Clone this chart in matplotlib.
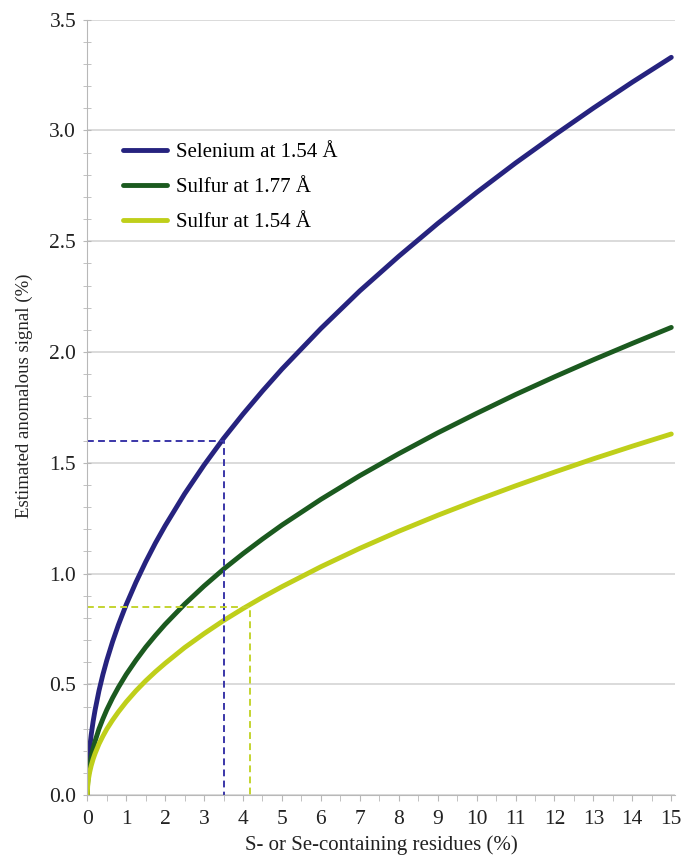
import matplotlib.pyplot as plt
from matplotlib.ticker import MultipleLocator

plt.rcParams['font.family'] = ['Liberation Serif', 'DejaVu Serif']

# values
residues = [0, 0.01, 0.03, 0.06, 0.1, 0.15, 0.2, 0.3, 0.4, 0.5, 0.65, 0.8, 1,
            1.25, 1.5, 1.75, 2, 2.5, 3, 3.5, 4, 4.5, 5, 6, 7, 8, 9, 10,
            11, 12, 13, 14, 15]
selenium_154 = [0, 0.086, 0.149, 0.211, 0.272, 0.333, 0.384, 0.471, 0.544, 0.608,
                0.693, 0.769, 0.86, 0.961, 1.053, 1.138, 1.216, 1.36, 1.49, 1.61,
                1.72, 1.824, 1.923, 2.106, 2.276, 2.432, 2.58, 2.72, 2.853, 2.979,
                3.101, 3.218, 3.33]
sulfur_177 = [0, 0.055, 0.094, 0.134, 0.172, 0.211, 0.244, 0.299, 0.344, 0.385,
              0.439, 0.487, 0.545, 0.609, 0.668, 0.721, 0.771, 0.862, 0.944, 1.02,
              1.09, 1.156, 1.219, 1.335, 1.442, 1.541, 1.635, 1.723, 1.808, 1.888,
              1.965, 2.039, 2.111]
sulfur_154 = [0, 0.042, 0.073, 0.103, 0.133, 0.163, 0.188, 0.231, 0.266, 0.298,
              0.339, 0.376, 0.421, 0.471, 0.516, 0.557, 0.595, 0.666, 0.729, 0.788,
              0.842, 0.893, 0.941, 1.031, 1.114, 1.191, 1.263, 1.331, 1.396, 1.458,
              1.518, 1.575, 1.63]
labels = ["Selenium at 1.54 Å", "Sulfur at 1.77 Å", "Sulfur at 1.54 Å"]
colors = ["#26237f", "#1b5a1f", "#bfcf1a"]

# guide lines: (x, y) reading points
se_mark = (3.5, 1.6)
s_mark = (4.17, 0.85)

fig = plt.figure(figsize=(6.82, 8.55), dpi=100)
ax = fig.add_axes([0.128, 0.070, 0.862, 0.907])

for ys, lab, c in zip([selenium_154, sulfur_177, sulfur_154], labels, colors):
    ax.plot(residues, ys, color=c, lw=3.5, label=lab, solid_capstyle='round')

ax.plot([0, se_mark[0], se_mark[0]], [se_mark[1], se_mark[1], 0],
        color="#3a36a8", lw=1.4, ls=(0, (3.5, 2.2)))
ax.plot([0, s_mark[0], s_mark[0]], [s_mark[1], s_mark[1], 0],
        color="#c4d430", lw=1.4, ls=(0, (3.5, 2.2)))

ax.set_xlim(0, 15.1)
ax.set_ylim(0, 3.5)
ax.xaxis.set_major_locator(MultipleLocator(1))
ax.xaxis.set_minor_locator(MultipleLocator(0.5))
ax.yaxis.set_major_locator(MultipleLocator(0.5))
ax.yaxis.set_minor_locator(MultipleLocator(0.1))
ax.yaxis.set_major_formatter(plt.FormatStrFormatter('%.1f'))
ax.grid(axis='y', which='major', color='#d4d4d4', lw=1.2)
ax.set_axisbelow(True)
for s in ['top', 'right']:
    ax.spines[s].set_visible(False)
for s in ['left', 'bottom']:
    ax.spines[s].set_color('#b8b8b8')
ax.tick_params(which='both', colors='#b8b8b8', labelcolor='#222222', labelsize=15.5)
ax.tick_params(axis='y', which='both', direction='inout', length=6, pad=5)
ax.tick_params(axis='x', which='both', length=4, pad=7)

ax.set_xlabel("S- or Se-containing residues (%)", fontsize=15, color='#222222')
ax.set_ylabel("Estimated anomalous signal (%)", fontsize=13.6, color='#222222')
ax.xaxis.set_label_coords(0.5, -0.052)
ax.yaxis.set_label_coords(-0.092, 0.515)

ax.legend(loc='upper left', bbox_to_anchor=(0.046, 0.852), borderaxespad=0,
          frameon=False, fontsize=15, handlelength=2.15, labelspacing=0.74,
          handletextpad=0.4)

fig.savefig("out.png", dpi=100)
